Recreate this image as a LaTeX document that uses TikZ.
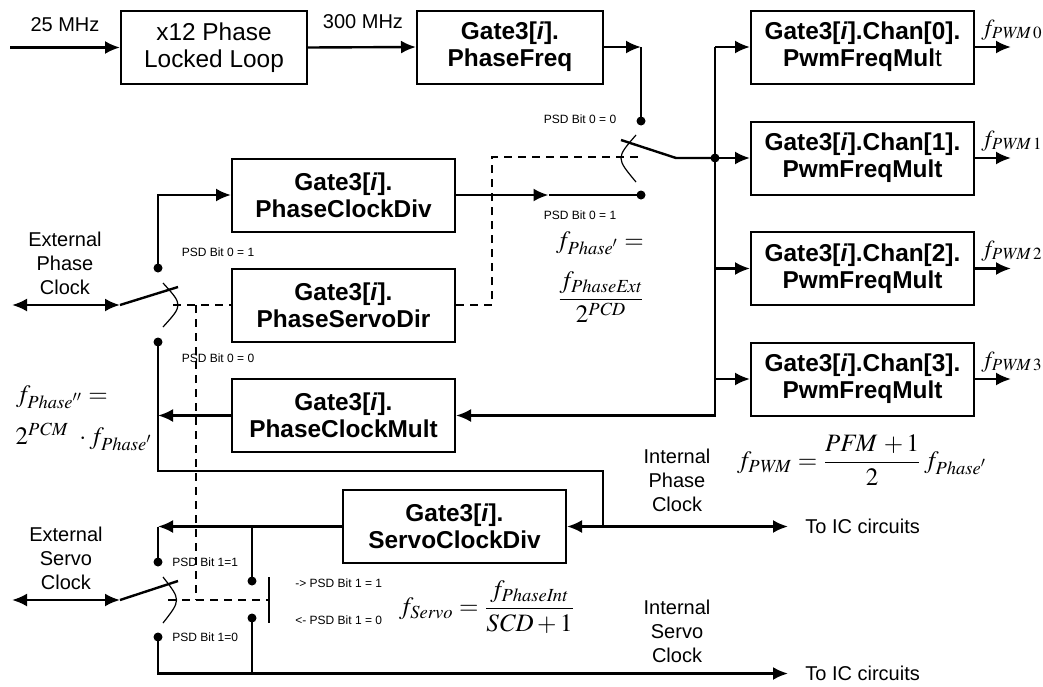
\documentclass[tikz,border=0pt]{standalone}
\usepackage{amsmath}
\usepackage{mathptmx}
\usepackage[no-math]{fontspec}
\setmainfont{Liberation Sans}
\usetikzlibrary{arrows.meta,positioning,calc}

\tikzset{
  blk/.style={draw, line width=1pt, minimum width=111.5pt, minimum height=36.5pt, inner sep=0pt,
    align=center, font=\fontsize{12.2}{13.5}\selectfont\bfseries},
  wire/.style={line width=1.2pt},
  sig/.style={wire, -{Latex[length=7.5pt,width=6.5pt]}},
  bisig/.style={wire, {Latex[length=7.5pt,width=6.5pt]}-{Latex[length=7.5pt,width=6.5pt]}},
  ctl/.style={line width=0.6pt, dash pattern=on 4pt off 3pt},
  swarc/.style={line width=0.6pt},
  dot/.style={circle, fill, inner sep=0pt, minimum size=4.5pt},
  lbl/.style={font=\fontsize{10}{12}\selectfont, align=center, inner sep=1pt},
  psd/.style={font=\fontsize{6}{7}\selectfont, inner sep=0pt},
  eqn/.style={font=\fontsize{12.5}{15}\selectfont, inner sep=0pt},
}

\begin{document}
\begin{tikzpicture}[x=0.5pt, y=-0.5pt]
	\useasboundingbox (0,0) rectangle (1043,686);
	
	% blocks
	\node[blk, minimum width=93pt, font=\fontsize{12.2}{13.5}\selectfont] (pll) at (214,47.5) {x12 Phase\\Locked Loop};
	\node[blk, minimum width=93pt] (pf) at (510,47) {Gate3[\textit{i}].\\PhaseFreq};
	\node[blk] (pcd) at (343.5,195) {Gate3[\textit{i}].\\PhaseClockDiv};
	\node[blk] (psd) at (343.5,305) {Gate3[\textit{i}].\\PhaseServoDir};
	\node[blk] (pcm) at (343.5,415.5) {Gate3[\textit{i}].\\PhaseClockMult};
	\node[blk] (scd) at (454.5,526.5) {Gate3[\textit{i}].\\ServoClockDiv};
	\node[blk] (ch0) at (862.5,47) {Gate3[\textit{i}].Chan[0].\\PwmFreqMul\mdseries t};
	\foreach \k/\y in {1/158,2/268.5,3/379}
		\node[blk] (ch\k) at (862.5,\y) {Gate3[\textit{i}].Chan[\k].\\PwmFreqMult};
	
	% contacts
	\node[dot] (d00) at (641,121) {};
	\node[dot] (d01) at (641,195) {};
	\node[dot] (bus) at (715,158) {};
	\node[dot] (dp1) at (158,268) {};
	\node[dot] (dp0) at (158,342) {};
	\node[dot] (ds1) at (158,562) {};
	\node[dot] (ds0) at (158,637) {};
	\node[dot] (dr1) at (252,581) {};
	\node[dot] (dr0) at (252,618) {};
	
	% clock chain
	\coordinate (clkin) at (10,47.5);
	\draw[sig] (clkin) -- (pll.west);
	\draw[sig] (pll.east) -- (pf.west);
	\draw[sig] (pf.east) -- (pf.east -| d00);
	\draw[wire] (pf.east -| d00) -- (d00.center);
	\draw[sig] (pcd.east) -- ($(pcd.east)!.5!(pcd.east -| d01)$);
	\draw[wire] ($(pcd.east)!.5!(pcd.east -| d01)$) -- (d01.center);
	
	% switch PSD bit 0 (right)
	\coordinate (sw0a) at (621,140);
	\coordinate (sw0b) at (676,158);
	\draw[wire] (sw0a) -- (sw0b) -- (bus.center);
	\draw[swarc] (636,135) .. controls (616,158) .. (636,182);
	
	% bus to channels
	\foreach \k in {0,...,3}{
		\draw[sig] (bus |- ch\k.west) -- (ch\k.west);
		\draw[sig] (ch\k.east) -- ++(36,0);
		\node[eqn, font=\fontsize{11.5}{13}\selectfont, anchor=base west] (fpwm\k) at ($(ch\k.east)+(6,-12)$) {$f_{\mathit{PWM}\,\k}$};
	}
	\draw[sig] (bus |- ch0.west) -- (bus |- pcm.east) -- (pcm.east);
	
	% switch PSD bit 0 (left)
	\coordinate (extp) at (12,305);
	\coordinate (swp) at (120,305);
	\draw[bisig] (extp) -- (swp);
	\draw[wire] (swp) -- (178,287);
	\draw[swarc] (163,283) .. controls (183,305) .. (163,327);
	\draw[sig] (dp1.center) |- (pcd.west);
	\draw[sig] (pcm.west) -- (pcm.west -| dp0);
	\coordinate (ipc) at (603,526.5);
	\draw[wire] (dp0.center) |- (603,471) -- (ipc);
	\draw[sig] (ipc) -- (scd.east);
	\coordinate (ic1) at (788,526.5);
	\draw[sig] (ipc) -- (ic1);
	\node[lbl, right=7.5pt of ic1] (toic1) {To IC circuits};
	
	% servo switch
	\draw[sig] (scd.west) -- (scd.west -| ds1);
	\draw[wire] (scd.west -| ds1) -- (ds1.center);
	\draw[wire] (scd.west -| dr1) -- (dr1.center);
	\coordinate (exts) at (12,600);
	\coordinate (sws) at (120,600);
	\draw[bisig] (exts) -- (sws);
	\draw[wire] (sws) -- (178,581);
	\draw[swarc] (163,577) .. controls (181,600) .. (163,623);
	\draw[wire] (269,577) -- (269,623); % select bar
	\coordinate (ic2) at (788,673.5);
	\draw[sig] (ds0.center) |- (ic2);
	\draw[wire] (dr0.center) -- (dr0 |- ic2);
	\node[lbl, right=7.5pt of ic2] (toic2) {To IC circuits};
	
	% control (dashed)
	\draw[ctl] (173,305) -- (psd.west);
	\draw[ctl] (psd.east) -| (492,157) -- (641,157);
	\draw[ctl] (196,305) -- (196,600);
	\draw[ctl] (168,600) -- (269,600);
	
	% labels
	\node[lbl] (mhz25) at (65,25) {25 MHz};
	\node[lbl] (mhz300) at (363,22) {300 MHz};
	\node[psd] (p00) at (580,119) {PSD Bit 0 = 0};
	\node[psd] (p01) at (580,215) {PSD Bit 0 = 1};
	\node[eqn] (fph) at (600,243) {$f_{\mathit{Phase}'} =$};
	\node[eqn] (fext) at (601,297) {$\dfrac{f_{\mathit{PhaseExt}}}{2^{\mathit{PCD}}}$};
	\node[lbl] (extph) at (65,263) {External\\Phase\\Clock};
	\node[psd] (q01) at (218,252) {PSD Bit 0 = 1};
	\node[psd] (q00) at (218,358) {PSD Bit 0 = 0};
	\node[eqn] (fmul) at (62,397) {$f_{\mathit{Phase}''} =$};
	\node[eqn] (fmul2) at (84,437) {$2^{\mathit{PCM}}\ \cdot f_{\mathit{Phase}'}$};
	\node[lbl] (intph) at (677,480) {Internal\\Phase\\Clock};
	\node[eqn] (fpwm) at (862,460) {$f_{\mathit{PWM}} = \dfrac{\mathit{PFM}\,+1}{2}\, f_{\mathit{Phase}'}$};
	\node[lbl] (extsv) at (66,558) {External\\Servo\\Clock};
	\node[psd, anchor=west] (s11) at (172,562) {PSD Bit 1=1};
	\node[psd, anchor=west] (s10) at (172,637) {PSD Bit 1=0};
	\node[psd, anchor=west] (r11) at (295,583) {-> PSD Bit 1 = 1};
	\node[psd, anchor=west] (r10) at (295,620) {<- PSD Bit 1 = 0};
	\node[eqn] (fsrv) at (487,607) {$f_{\mathit{Servo}} = \dfrac{f_{\mathit{PhaseInt}}}{\mathit{SCD}+1}$};
	\node[lbl] (intsv) at (677,631) {Internal\\Servo\\Clock};
	
\end{tikzpicture}
\end{document}
